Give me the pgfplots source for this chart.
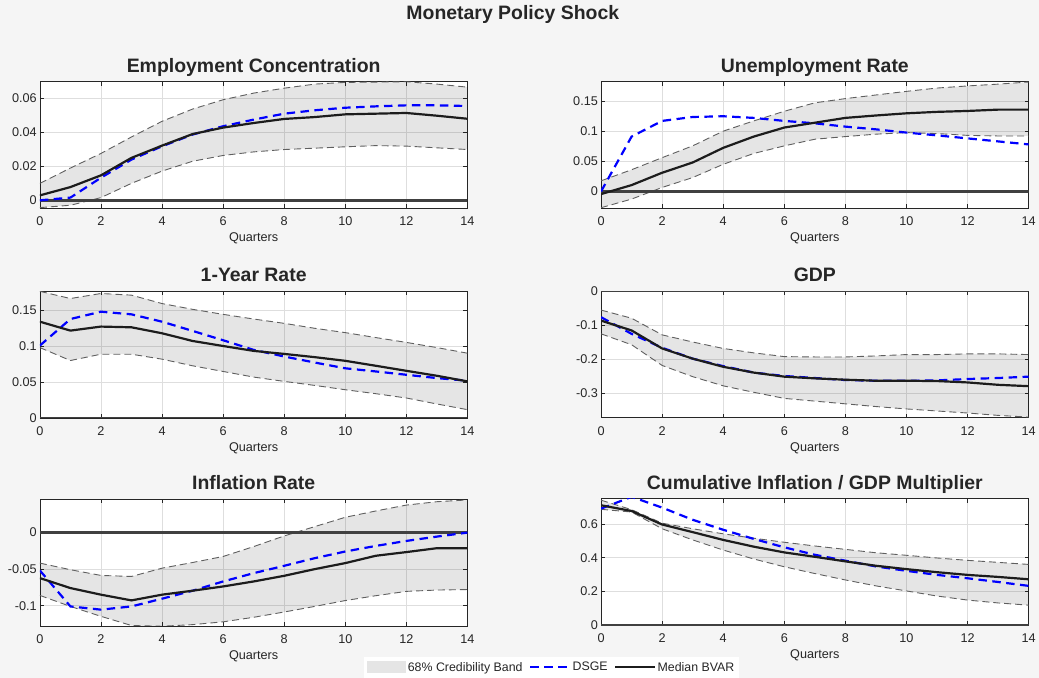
\documentclass[border=0pt]{standalone}
\usepackage{fontspec}
\setmainfont{Liberation Sans}
\usepackage{pgfplots}
\pgfplotsset{compat=1.18}
\usepackage{pgfplotstable}
\usepgfplotslibrary{fillbetween}

\definecolor{figbg}{RGB}{245,245,245}
\definecolor{bandcol}{RGB}{229,229,229}
\definecolor{edgecol}{RGB}{95,95,95}
\definecolor{dsgecol}{RGB}{0,0,255}
\definecolor{medcol}{RGB}{28,28,28}
\definecolor{zerocol}{RGB}{64,64,64}
\definecolor{axcol}{RGB}{38,38,38}
\definecolor{gridcol}{RGB}{222,222,222}

\pgfplotstableread{
q lo up med dsge
0 -0.0043 0.0100 0.0029 0.0000
1 -0.0029 0.0190 0.0078 0.0016
2 0.0016 0.0276 0.0147 0.0133
3 0.0100 0.0373 0.0250 0.0240
4 0.0172 0.0465 0.0322 0.0318
5 0.0230 0.0537 0.0390 0.0387
6 0.0264 0.0592 0.0428 0.0436
7 0.0285 0.0631 0.0455 0.0475
8 0.0299 0.0660 0.0479 0.0510
9 0.0307 0.0684 0.0490 0.0530
10 0.0315 0.0694 0.0506 0.0545
11 0.0322 0.0696 0.0510 0.0553
12 0.0319 0.0698 0.0514 0.0559
13 0.0309 0.0684 0.0498 0.0559
14 0.0299 0.0666 0.0480 0.0555
}\tabA
\pgfplotstableread{
q lo up med dsge
0 -0.0270 0.0176 -0.0044 0.0000
1 -0.0127 0.0360 0.0105 0.0910
2 0.0066 0.0560 0.0310 0.1170
3 0.0230 0.0756 0.0480 0.1235
4 0.0450 0.1000 0.0723 0.1247
5 0.0630 0.1170 0.0910 0.1220
6 0.0756 0.1330 0.1060 0.1170
7 0.0866 0.1470 0.1140 0.1130
8 0.0910 0.1540 0.1220 0.1075
9 0.0950 0.1600 0.1260 0.1030
10 0.0976 0.1660 0.1296 0.0976
11 0.0960 0.1715 0.1320 0.0930
12 0.0930 0.1750 0.1335 0.0880
13 0.0920 0.1780 0.1357 0.0830
14 0.0920 0.1815 0.1357 0.0780
}\tabB
\pgfplotstableread{
q lo up med dsge
0 0.0978 0.1760 0.1338 0.1006
1 0.0798 0.1660 0.1214 0.1375
2 0.0886 0.1730 0.1270 0.1477
3 0.0886 0.1707 0.1260 0.1440
4 0.0817 0.1590 0.1177 0.1338
5 0.0725 0.1510 0.1070 0.1210
6 0.0646 0.1440 0.1000 0.1080
7 0.0568 0.1375 0.0932 0.0946
8 0.0508 0.1315 0.0890 0.0854
9 0.0452 0.1246 0.0845 0.0770
10 0.0392 0.1186 0.0794 0.0690
11 0.0337 0.1117 0.0725 0.0646
12 0.0277 0.1050 0.0655 0.0600
13 0.0194 0.0978 0.0586 0.0554
14 0.0115 0.0900 0.0508 0.0517
}\tabC
\pgfplotstableread{
q lo up med dsge
0 -0.126 -0.056 -0.087 -0.077
1 -0.158 -0.080 -0.116 -0.126
2 -0.219 -0.129 -0.169 -0.167
3 -0.252 -0.150 -0.199 -0.199
4 -0.279 -0.169 -0.223 -0.221
5 -0.298 -0.182 -0.240 -0.240
6 -0.316 -0.193 -0.252 -0.250
7 -0.324 -0.194 -0.257 -0.256
8 -0.332 -0.194 -0.261 -0.262
9 -0.340 -0.191 -0.264 -0.264
10 -0.347 -0.187 -0.264 -0.264
11 -0.353 -0.187 -0.265 -0.263
12 -0.359 -0.185 -0.269 -0.259
13 -0.366 -0.185 -0.276 -0.256
14 -0.371 -0.187 -0.280 -0.252
}\tabD
\pgfplotstableread{
q lo up med dsge
0 -0.0860 -0.0420 -0.0624 -0.0520
1 -0.1010 -0.0510 -0.0760 -0.1010
2 -0.1145 -0.0588 -0.0850 -0.1054
3 -0.1270 -0.0602 -0.0928 -0.1010
4 -0.1280 -0.0489 -0.0850 -0.0905
5 -0.1258 -0.0412 -0.0796 -0.0796
6 -0.1220 -0.0330 -0.0738 -0.0670
7 -0.1158 -0.0195 -0.0670 -0.0557
8 -0.1086 -0.0050 -0.0593 -0.0457
9 -0.1010 0.0077 -0.0502 -0.0353
10 -0.0930 0.0204 -0.0420 -0.0262
11 -0.0864 0.0290 -0.0320 -0.0186
12 -0.0805 0.0370 -0.0270 -0.0118
13 -0.0787 0.0416 -0.0217 -0.0059
14 -0.0780 0.0440 -0.0217 -0.0005
}\tabE
\pgfplotstableread{
q lo up med dsge
0 0.686 0.740 0.710 0.690
1 0.670 0.684 0.676 0.760
2 0.571 0.604 0.596 0.696
3 0.505 0.571 0.551 0.624
4 0.445 0.541 0.505 0.565
5 0.392 0.515 0.465 0.511
6 0.346 0.491 0.431 0.461
7 0.306 0.469 0.405 0.417
8 0.268 0.449 0.378 0.382
9 0.233 0.429 0.352 0.348
10 0.203 0.414 0.332 0.322
11 0.173 0.398 0.314 0.298
12 0.149 0.384 0.298 0.278
13 0.132 0.372 0.286 0.256
14 0.119 0.360 0.272 0.233
}\tabF

\pgfplotsset{
  panel/.style={
    scale only axis, width=429pt, height=127pt, anchor=south west,
    xmin=0, xmax=14, xtick={0,2,4,6,8,10,12,14},
    xticklabels={0,2,4,6,8,10,12,14},
    scaled y ticks=false,
    axis background/.style={fill=white},
    axis line style={draw=axcol, line width=0.7pt},
    tick style={draw=axcol, line width=0.6pt},
    major tick length=4pt, tick align=inside, tick pos=both,
    xticklabel pos=lower, yticklabel pos=left,
    grid=major, major grid style={draw=gridcol, line width=0.6pt},
    ticklabel style={font=\fontsize{12.7}{14}\selectfont, text=axcol},
    xticklabel style={anchor=base, yshift=-17.5pt},
    yticklabel style={anchor=east, inner sep=0pt, xshift=-3pt},
    xlabel={Quarters},
    xlabel style={font=\fontsize{12.7}{14}\selectfont, text=axcol,
      at={(0.5,0)}, anchor=base, yshift=-33.5pt},
    title style={font=\bfseries\fontsize{19.5}{22}\selectfont, text=axcol,
      at={(0.5,1)}, anchor=base, yshift=3.5pt},
  },
  bandfill/.style={fill=black, fill opacity=0.1, draw=none},
  edge/.style={draw=edgecol, line width=0.9pt, dash pattern=on 7pt off 4pt},
  dsge/.style={draw=dsgecol, line width=2.2pt, dash pattern=on 8.5pt off 5.5pt},
  med/.style={draw=medcol, line width=2.2pt},
  zeroline/.style={draw=zerocol, line width=2.6pt},
}

\newcommand{\bandpanel}[1]{%
  \addplot[edge, name path=up, forget plot] table[x=q,y=up]{#1};
  \addplot[edge, name path=lo, forget plot] table[x=q,y=lo]{#1};
  \addplot[bandfill, forget plot] fill between[of=up and lo];
  \addplot[zeroline, forget plot] coordinates {(0,0) (14,0)};
  \addplot[dsge, forget plot] table[x=q,y=dsge]{#1};
  \addplot[med, forget plot] table[x=q,y=med]{#1};
}

\begin{document}
\pagecolor{figbg}%
\begin{tikzpicture}
\path (0,0) rectangle (1039pt,676pt);
\node[anchor=base, font=\bfseries\fontsize{19.5}{22}\selectfont, text=axcol] at (514.5pt,656.7pt) {Monetary Policy Shock};

\begin{axis}[panel, at={(40pt,467pt)}, title={Employment Concentration},
  ymin=-0.0047, ymax=0.0698, ytick={0,0.02,0.04,0.06}, yticklabels={0,0.02,0.04,0.06}]
  \bandpanel{\tabA}
\end{axis}

\begin{axis}[panel, at={(603pt,467pt)}, title={Unemployment Rate},
  ymin=-0.028, ymax=0.182, ytick={0,0.05,0.1,0.15}, yticklabels={0,0.05,0.1,0.15}]
  \bandpanel{\tabB}
\end{axis}

\begin{axis}[panel, at={(40pt,256.7pt)}, title={1-Year Rate},
  ymin=0, ymax=0.176, ytick={0,0.05,0.1,0.15}, yticklabels={0,0.05,0.1,0.15}]
  \bandpanel{\tabC}
\end{axis}

\begin{axis}[panel, at={(603pt,257pt)}, title={GDP},
  ymin=-0.3726, ymax=0, ytick={-0.3,-0.2,-0.1,0}, yticklabels={-0.3,-0.2,-0.1,0}]
  \bandpanel{\tabD}
\end{axis}

\begin{axis}[panel, at={(40pt,48pt)}, title={Inflation Rate},
  ymin=-0.1276, ymax=0.0448, ytick={-0.1,-0.05,0}, yticklabels={-0.1,-0.05,0},
  legend image code/.code={\draw[#1] (0pt,0pt) -- (40pt,0pt);},
  legend columns=3,
  legend style={at={(1.1958,-0.327)}, anchor=center, fill=white, draw=none,
    font=\fontsize{12.4}{14}\selectfont, text=axcol, inner xsep=3pt, inner ysep=3pt,
    /tikz/every odd column/.append style={column sep=0pt},
    /tikz/every even column/.append style={column sep=5pt},
    nodes={inner xsep=1.5pt}}]
  \addplot[edge, name path=up, forget plot] table[x=q,y=up]{\tabE};
  \addplot[edge, name path=lo, forget plot] table[x=q,y=lo]{\tabE};
  \addplot[bandfill,
    legend image code/.code={\fill[bandcol, fill opacity=1] (0pt,-6pt) rectangle (40pt,6pt);}]
    fill between[of=up and lo];
  \addlegendentry{68\% Credibility Band}
  \addplot[zeroline, forget plot] coordinates {(0,0) (14,0)};
  \addplot[dsge] table[x=q,y=dsge]{\tabE};
  \addlegendentry{DSGE}
  \addplot[med] table[x=q,y=med]{\tabE};
  \addlegendentry{Median BVAR}
\end{axis}

\begin{axis}[panel, at={(603pt,48.7pt)}, title={Cumulative Inflation / GDP Multiplier},
  ymin=0, ymax=0.749, ytick={0,0.2,0.4,0.6}, yticklabels={0,0.2,0.4,0.6}]
  \bandpanel{\tabF}
\end{axis}
\end{tikzpicture}
\end{document}
